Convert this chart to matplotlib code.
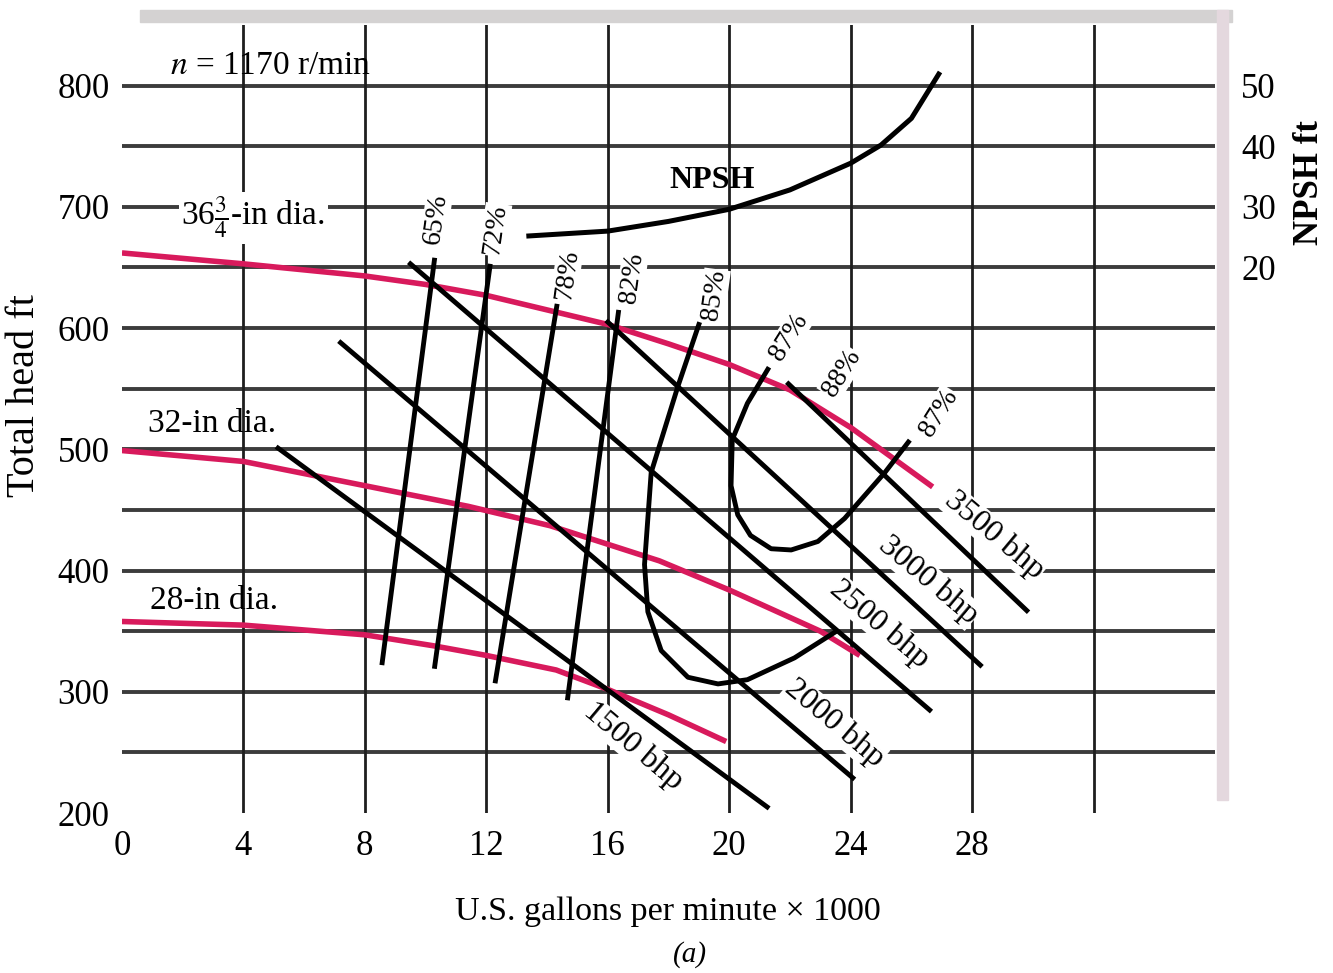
import numpy as np
import matplotlib
matplotlib.use("Agg")
import matplotlib.pyplot as plt
from matplotlib.patches import Rectangle

plt.rcParams['font.family'] = ['Liberation Serif', 'DejaVu Serif']
plt.rcParams['mathtext.fontset'] = 'stix'

# Head-capacity curves (x = gpm/1000, head in ft)
x_28 = [0, 4, 8, 10.25, 12, 14.3, 16, 18, 19.9]
h_28 = [358, 355, 347, 338, 330, 318, 302, 281, 259]
x_32 = [0, 4, 8, 11.4, 14.1, 17.7, 20, 23, 24.3]
h_32 = [499, 490, 470, 453, 437, 408, 384, 350, 330]
x_36 = [0, 4, 8, 10, 12, 16, 18, 20, 22, 24, 26.7]
h_36 = [662, 653, 643, 636, 627, 603, 587, 570, 549, 518, 469]

# Efficiency contours
eff_labels = ["65%", "72%", "78%", "82%", "85%"]
eff_x = [[8.57, 10.29], [10.3, 12.12], [12.3, 14.32], [14.68, 16.35],
         [19.0, 18.31, 17.43, 17.21, 17.32, 17.76, 18.64, 19.63, 20.6, 22.15, 23.47]]
eff_h = [[324, 656], [321, 651], [309, 618], [295, 613],
         [603, 552, 481, 405, 366, 334, 312, 306.5, 310, 328, 349]]
x_87 = [21.27, 20.6, 20.1, 20.06, 20.28, 20.7, 21.38, 22.04, 22.92, 23.8, 25.13, 25.9]
h_87 = [566, 538, 508, 470, 446, 429, 418, 417, 424, 443, 481, 506]

# Brake horsepower lines
bhp_labels = ["1500 bhp", "2000 bhp", "2500 bhp", "3000 bhp", "3500 bhp"]
bhp_x = [[5.14, 21.25], [7.2, 24.07], [9.5, 26.6], [16.0, 28.27], [21.95, 29.8]]
bhp_h = [[501, 205], [588, 229], [653, 285], [605, 322], [554, 367]]

# NPSH curve (ft, right axis)
x_npsh = [13.4, 16, 18, 20, 22, 24, 25, 26, 26.9]
npsh = [25.2, 26.0, 27.6, 29.6, 32.8, 37.2, 40.2, 44.6, 51.9]

x_ticks = [0, 4, 8, 12, 16, 20, 24, 28]
y_ticks = [200, 300, 400, 500, 600, 700, 800]
npsh_ticks = [20, 30, 40, 50]

RED = '#d81a5c'
fig = plt.figure(figsize=(13.33, 9.73), dpi=100)
ax = fig.add_axes([0.0915, 0.1644, 0.82, 0.8099])
ax.set_xlim(0, 36)
ax.set_ylim(200, 850)

# scanned-page frame
fig.patches.append(Rectangle((140/1333, 1-22/973), 1092/1333, 12/973,
                             transform=fig.transFigure, color='#d4d2d2', zorder=0))
fig.patches.append(Rectangle((1217/1333, 1-800/973), 11/1333, 790/973,
                             transform=fig.transFigure, color='#e4d8de', zorder=0))

# grid
for yv in np.arange(250, 801, 50):
    ax.axhline(yv, color='#3c3c3c', lw=2.8, zorder=1)
for xv in np.arange(4, 33, 4):
    ax.axvline(xv, color='#1e1e1e', lw=2.0, zorder=1)

for xs, hs in [(x_28, h_28), (x_32, h_32), (x_36, h_36)]:
    ax.plot(xs, hs, color=RED, lw=4, solid_capstyle='butt', zorder=3)

for xs, hs in zip(eff_x, eff_h):
    ax.plot(xs, hs, color='black', lw=3.5, zorder=4)
ax.plot(x_87, h_87, color='black', lw=3.5, zorder=4)
for xs, hs in zip(bhp_x, bhp_h):
    ax.plot(xs, hs, color='black', lw=3.5, zorder=4)

box = dict(facecolor='white', edgecolor='none', pad=0.5)
eff_pos = [(10.35, 690), (12.3, 681), (14.65, 644), (16.8, 641), (19.5, 627)]
for lab, (px, py) in zip(eff_labels, eff_pos):
    ax.text(px, py, lab, rotation=82, fontsize=20, ha='center', va='center',
            bbox=box, zorder=5)
for lab, px, py in [("87%", 21.98, 593), ("88%", 23.7, 563), ("87%", 26.9, 530)]:
    ax.text(px, py, lab, rotation=58, fontsize=20, ha='center', va='center',
            bbox=box, zorder=5)

bhp_pos = [(16.85, 255), (23.45, 274), (24.95, 356), (26.55, 392), (28.75, 429)]
for lab, (px, py) in zip(bhp_labels, bhp_pos):
    ax.text(px, py, lab, rotation=-40, fontsize=23, ha='center', va='center',
            bbox=box, zorder=5)

ax.text(4.32, 691, r"36$\frac{3}{4}$-in dia.", fontsize=24, ha='center', va='center',
        bbox=dict(facecolor='white', edgecolor='none', pad=2), zorder=5)
ax.text(0.86, 521, "32-in dia.", fontsize=24, ha='left', va='center', zorder=5)
ax.text(0.92, 375, "28-in dia.", fontsize=24, ha='left', va='center', zorder=5)
ax.text(1.58, 816, r"$n$ = 1170 r/min", fontsize=24, ha='left', va='center', zorder=5)
ax.text(19.44, 722, "NPSH", fontsize=23, fontweight='bold', ha='center', va='center', zorder=5)

ax.set_xticks(x_ticks)
ax.set_yticks(y_ticks)
ax.tick_params(axis='both', length=0, labelsize=25)
ax.tick_params(axis='x', pad=12)
ax.tick_params(axis='y', pad=9)
for s in ax.spines.values():
    s.set_visible(False)

ax2 = ax.twinx()
ax2.set_ylim(-70, 60)
ax2.plot(x_npsh, npsh, color='black', lw=3.6, zorder=4)
ax2.set_yticks(npsh_ticks)
ax2.tick_params(axis='y', length=0, labelsize=25, pad=19)
for s in ax2.spines.values():
    s.set_visible(False)

fig.text(25/1333, 1-396/973, "Total head ft", rotation=90, fontsize=29,
         ha='center', va='center')
fig.text(1310/1333, 1-183/973, "NPSH ft", rotation=90, fontsize=25,
         fontweight='bold', ha='center', va='center')
fig.text(668/1333, 1-912/973, "U.S. gallons per minute \u00d7 1000", fontsize=24.5,
         ha='center', va='center')
fig.text(690/1333, 1-955/973, "(a)", fontsize=21, style='italic',
         ha='center', va='center')

fig.savefig("out.png", dpi=100, facecolor='white')
